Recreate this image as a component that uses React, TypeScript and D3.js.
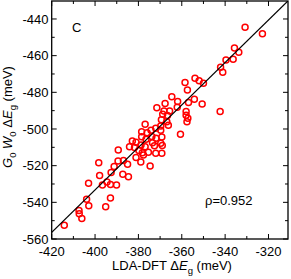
import React from "react";
import * as d3 from "d3";

const ldaGap: number[] = [
  -330.8, -322.8, -335.7, -333.7, -339.6, -336.3, -342.1, -341.1, -353.9, -352.0, -350.0, -358.5, -357.4,
  -364.6, -354.2, -361.9, -356.9, -350.6, -367.7, -371.5, -362.1, -342.3, -368.2, -365.6, -358.0, -358.0,
  -368.8, -366.6, -357.2, -357.6, -369.4, -366.9, -376.9, -366.2, -369.7, -372.0, -374.2, -369.7, -378.5,
  -376.0, -360.6, -373.8, -378.5, -369.2, -371.9, -376.5, -382.8, -381.1, -369.7, -373.5, -378.8, -384.1,
  -381.8, -376.9, -372.6, -369.0, -375.4, -378.2, -372.0, -369.2,
  -389.3, -379.8, -377.7, -381.1, -378.9, -374.6, -386.9, -389.4, -385.0, -391.2, -392.6, -398.3, -397.9,
  -387.2, -384.6, -403.0, -396.6, -394.5, -392.9, -390.1, -392.9, -395.1, -403.9, -402.9, -407.4, -407.3,
  -406.1, -414.2,
];
const gwGap: number[] = [
  -444.5, -448.0, -455.8, -458.2, -462.4, -462.0, -466.3, -469.1, -472.3, -473.7, -475.1, -474.7, -478.7,
  -482.4, -483.8, -485.0, -485.5, -486.4, -486.1, -488.4, -488.2, -490.5, -490.2, -490.2, -490.5, -492.5,
  -492.0, -492.6, -494.2, -496.0, -494.9, -496.0, -497.4, -497.9, -498.4, -499.6, -500.7, -500.7, -501.5,
  -502.0, -502.9, -504.1, -504.2, -504.4, -505.1, -505.6, -506.5, -507.2, -507.8, -507.5, -508.7, -509.7,
  -510.1, -509.7, -509.1, -509.0, -512.7, -512.9, -513.3, -513.3,
  -511.5, -511.8, -514.2, -515.5, -518.0, -520.2, -517.2, -517.5, -519.2, -520.5, -523.7, -518.4, -525.4,
  -524.7, -526.0, -529.6, -530.5, -528.9, -530.3, -530.5, -537.7, -542.4, -538.3, -541.9, -544.5, -546.2,
  -548.8, -552.5,
];
const fitSlope = 1.158;
const fitIntercept = -556.4; // value at x = -420
const xTickValues = [-420, -400, -380, -360, -340, -320];
const yTickValues = [-560, -540, -520, -500, -480, -460, -440];
const panelLabel = "C";
const rhoLabel = "ρ=0.952";

const W = 291;
const H = 279;
const L = 51.7, R = 288, T = 1, B = 239;
const FONT = "'Liberation Sans', Arial, Helvetica, sans-serif";

export default function App() {
  const x = d3.scaleLinear().domain([-420, -311]).range([L, R]);
  const y = d3.scaleLinear().domain([-560, -430.2]).range([B, T]);
  const xMinor = d3.range(-420, -310, 10);
  const yMinor = d3.range(-560, -430, 10);
  const fitY = (v: number) => fitIntercept + fitSlope * (v + 420);
  const fitPath = d3.line<number>().x((v) => x(v)).y((v) => y(fitY(v)))([-420, -311]);
  const isMajorX = (v: number) => xTickValues.includes(v);
  const isMajorY = (v: number) => yTickValues.includes(v);

  return (
    <svg width={W} height={H} style={{ position: "absolute", left: 0, top: 0, background: "#fff" }} fontFamily={FONT}>
      <defs>
        <clipPath id="plotclip">
          <rect x={L} y={T} width={R - L} height={B - T} />
        </clipPath>
      </defs>
      {/* minor/major ticks, all sides, inward */}
      <g stroke="#000" strokeWidth={1}>
        {xMinor.map((v) => {
          const len = isMajorX(v) ? 5 : 3;
          return (
            <g key={"xt" + v}>
              <line x1={x(v)} x2={x(v)} y1={B} y2={B - len} />
              <line x1={x(v)} x2={x(v)} y1={T} y2={T + len} />
            </g>
          );
        })}
        {yMinor.map((v) => {
          const len = isMajorY(v) ? 5 : 3;
          return (
            <g key={"yt" + v}>
              <line x1={L} x2={L + len} y1={y(v)} y2={y(v)} />
              <line x1={R} x2={R - len} y1={y(v)} y2={y(v)} />
            </g>
          );
        })}
      </g>
      {/* points */}
      <g clipPath="url(#plotclip)">
        {ldaGap.map((v, i) => (
          <circle key={i} cx={x(v)} cy={y(gwGap[i])} r={3} fill="none" stroke="#ff0000" strokeWidth={1.5} />
        ))}
        <path d={fitPath || ""} stroke="#000" strokeWidth={1.3} fill="none" />
      </g>
      <rect x={L} y={T} width={R - L} height={B - T} fill="none" stroke="#000" strokeWidth={1.3} />
      {/* tick labels */}
      <g fontSize={13} fill="#000">
        {xTickValues.map((v) => (
          <text key={"xl" + v} x={x(v)} y={256} textAnchor="middle">{v}</text>
        ))}
        {yTickValues.map((v) => (
          <text key={"yl" + v} x={48.5} y={y(v) + 4.6} textAnchor="end">{v}</text>
        ))}
      </g>
      {/* axis titles */}
      <text x={172} y={270} textAnchor="middle" fontSize={13} fill="#000">
        LDA-DFT Δ<tspan fontStyle="italic">E</tspan>
        <tspan fontSize={9.5} dy={3.5}>g</tspan>
        <tspan dy={-3.5}> (meV)</tspan>
      </text>
      <text transform={`translate(12,117) rotate(-90)`} textAnchor="middle" fontSize={13} fill="#000">
        <tspan fontStyle="italic">G</tspan>
        <tspan fontSize={9.5} dy={3.5}>0</tspan>
        <tspan dy={-3.5} fontStyle="italic"> W</tspan>
        <tspan fontSize={9.5} dy={3.5}>0</tspan>
        <tspan dy={-3.5}> Δ</tspan>
        <tspan fontStyle="italic">E</tspan>
        <tspan fontSize={9.5} dy={3.5}>g</tspan>
        <tspan dy={-3.5}> (meV)</tspan>
      </text>
      <text x={72} y={31.5} fontSize={13} fill="#000">{panelLabel}</text>
      <text x={205} y={205} fontSize={13} fill="#000">{rhoLabel}</text>
    </svg>
  );
}
